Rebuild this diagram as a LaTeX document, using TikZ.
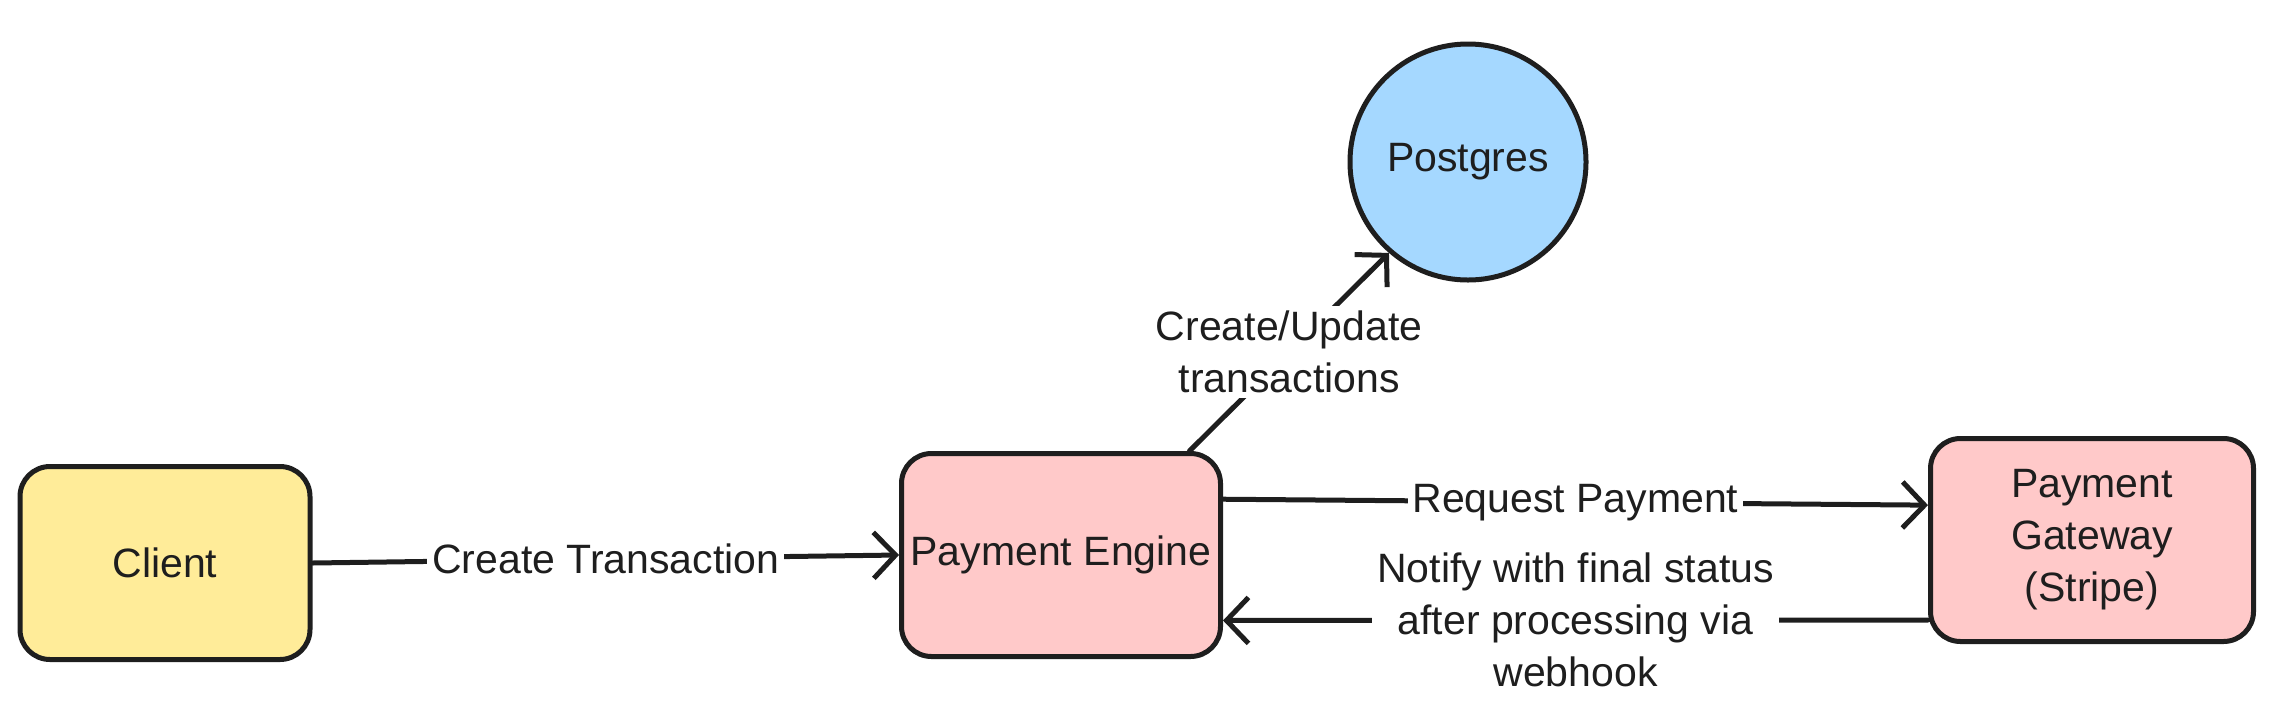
\documentclass[tikz,border=0pt]{standalone}
\usepackage{fontspec}
\setmainfont{Liberation Sans}
\usetikzlibrary{arrows.meta}
\definecolor{ink}{HTML}{1E1E1E}
\definecolor{yel}{HTML}{FFEC99}
\definecolor{pnk}{HTML}{FFC9C9}
\definecolor{blu}{HTML}{A5D8FF}
\begin{document}
\begin{tikzpicture}[x=1pt,y=-1pt,
  txt/.style={font=\fontsize{41}{52}\selectfont, text=ink, align=center},
  box/.style={txt, draw=ink, line width=5pt, rounded corners=30pt, inner sep=0pt},
  conn/.style={draw=ink, line width=5pt, line cap=round, -{Straight Barb[length=22pt,width=46pt]}},
  lbl/.style={txt, fill=white, inner sep=5pt}]
\useasboundingbox (0,0) rectangle (2273,713);
\node[box, fill=yel, minimum width=290pt, minimum height=193pt] (client) at (165,563) {Client};
\node[box, fill=pnk, minimum width=319pt, minimum height=203pt] (pe) at (1061,555) {Payment Engine};
\node[box, fill=pnk, minimum width=323pt, minimum height=203pt] (pg) at (2092,540) {Payment\\Gateway\\(Stripe)};
\node[txt, circle, draw=ink, fill=blu, line width=5pt, minimum size=236pt, inner sep=0pt] (db) at (1468,162) {Postgres};
\draw[conn] (client.east) -- node[lbl] {Create Transaction} (pe.west);
\draw[conn] (pe.39) -- node[lbl] {Create/Update\\transactions} (db.229);
\draw[conn] (pe.19) -- node[lbl] {Request Payment} (pg.168);
\draw[conn] (pg.206) -- node[lbl] {Notify with final status\\after processing via\\webhook} (pe.-22);
\end{tikzpicture}
\end{document}
